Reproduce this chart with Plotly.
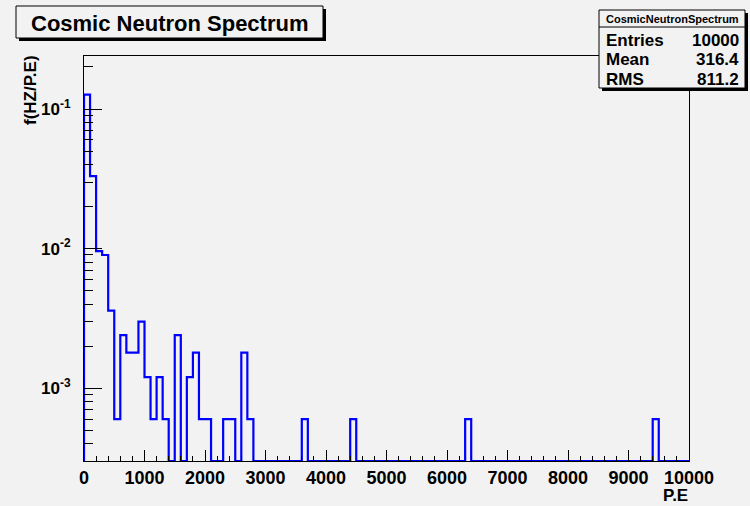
import plotly.graph_objects as go

# Histogram binning (P.E) and bin contents (Hz per bin)
bin_edges = [i * 100 for i in range(101)]
rate = [
    0.1266, 0.0330, 0.0096, 0.0090, 0.0036, 0.0006, 0.0024, 0.0018, 0.0018, 0.0030,
    0.0012, 0.0006, 0.0012, 0.0006, 0.0, 0.0024, 0.0, 0.0012, 0.0018, 0.0006,
    0.0006, 0.0, 0.0, 0.0006, 0.0006, 0.0, 0.0018, 0.0006, 0.0, 0.0,
    0.0, 0.0, 0.0, 0.0, 0.0, 0.0, 0.0006, 0.0, 0.0, 0.0,
    0.0, 0.0, 0.0, 0.0, 0.0006, 0.0, 0.0, 0.0, 0.0, 0.0,
    0.0, 0.0, 0.0, 0.0, 0.0, 0.0, 0.0, 0.0, 0.0, 0.0,
    0.0, 0.0, 0.0, 0.0006, 0.0, 0.0, 0.0, 0.0, 0.0, 0.0,
    0.0, 0.0, 0.0, 0.0, 0.0, 0.0, 0.0, 0.0, 0.0, 0.0,
    0.0, 0.0, 0.0, 0.0, 0.0, 0.0, 0.0, 0.0, 0.0, 0.0,
    0.0, 0.0, 0.0, 0.0, 0.0006, 0.0, 0.0, 0.0, 0.0, 0.0,
]
y_tick_vals = [1e-3, 1e-2, 1e-1]
y_tick_text = ["10<sup>-3</sup>", "10<sup>-2</sup>", "10<sup>-1</sup>"]
x_tick_vals = [0, 1000, 2000, 3000, 4000, 5000, 6000, 7000, 8000, 9000, 10000]
x_tick_text = ["0", "1000", "2000", "3000", "4000", "5000", "6000", "7000", "8000", "9000", "10000"]

stat_labels = ["Entries", "Mean", "RMS"]
stat_values = ["10000", "316.4", "811.2"]

W, H = 750, 506
L, R, T, B = 84, 61, 56, 45
PW, PH = W - L - R, H - T - B
YLOG_RANGE = [-3.5215, -0.6203]
FONT = "Liberation Sans, Arial, Helvetica, sans-serif"
BG = "#f2f2f2"


def px(x):
    return (x - L) / PW


def py(y):
    return (H - B - y) / PH


# Step outline: empty bins sit on the lower edge of the log axis
floor = 10 ** YLOG_RANGE[0]
xs = [bin_edges[0]] + bin_edges[:-1] + [bin_edges[-1]]
ys = [floor] + [v if v > 0 else floor for v in rate] + [floor]

fig = go.Figure()
fig.add_trace(go.Scatter(
    x=xs, y=ys, mode="lines", line=dict(color="#0000ff", width=2.2, shape="hv"),
    hoverinfo="skip", showlegend=False,
))

fig.update_layout(
    width=W, height=H,
    margin=dict(l=L, r=R, t=T, b=B, pad=0),
    paper_bgcolor=BG, plot_bgcolor=BG,
    font=dict(family=FONT, color="black"),
    showlegend=False,
)
fig.update_xaxes(
    range=[0, 10000], showgrid=False, zeroline=False,
    showline=True, mirror=True, linecolor="black", linewidth=1,
    ticks="inside", ticklen=11, tickcolor="black", tickwidth=1,
    tickmode="array", tickvals=x_tick_vals, ticktext=x_tick_text,
    tickfont=dict(family=FONT, size=18, color="black", weight="bold"),
    minor=dict(ticks="inside", ticklen=5, dtick=200, tick0=0, tickcolor="black", showgrid=False),
)
fig.update_yaxes(
    type="log", range=YLOG_RANGE, showgrid=False, zeroline=False,
    showline=True, mirror=True, linecolor="black", linewidth=1,
    ticks="inside", ticklen=18, tickcolor="black", tickwidth=1,
    tickmode="array", tickvals=y_tick_vals, ticktext=y_tick_text,
    tickfont=dict(family=FONT, size=17, color="black", weight="bold"),
    ticklabelstandoff=9,
    minor=dict(ticks="inside", ticklen=9, dtick="D1", tickcolor="black", showgrid=False),
)

shapes = []
ann = []

# Title box with drop shadow
shapes.append(dict(type="rect", xref="paper", yref="paper",
                   x0=px(19), x1=px(326), y0=py(41), y1=py(9),
                   line=dict(width=0), fillcolor="black", layer="above"))
shapes.append(dict(type="rect", xref="paper", yref="paper",
                   x0=px(16), x1=px(323), y0=py(38), y1=py(6),
                   line=dict(color="black", width=1), fillcolor=BG, layer="above"))
ann.append(dict(text="<b>Cosmic Neutron Spectrum</b>", xref="paper", yref="paper",
                x=px(170), y=py(23), xanchor="center", yanchor="middle", showarrow=False,
                font=dict(family=FONT, size=22, color="black")))

# Statistics box with drop shadow
shapes.append(dict(type="rect", xref="paper", yref="paper",
                   x0=px(602), x1=px(748), y0=py(91), y1=py(13),
                   line=dict(width=0), fillcolor="black", layer="above"))
shapes.append(dict(type="rect", xref="paper", yref="paper",
                   x0=px(599), x1=px(745), y0=py(88), y1=py(10),
                   line=dict(color="black", width=1), fillcolor=BG, layer="above"))
shapes.append(dict(type="line", xref="paper", yref="paper",
                   x0=px(599), x1=px(745), y0=py(27), y1=py(27),
                   line=dict(color="black", width=1), layer="above"))
ann.append(dict(text="<b>CosmicNeutronSpectrum</b>", xref="paper", yref="paper",
                x=px(672), y=py(18.5), xanchor="center", yanchor="middle", showarrow=False,
                font=dict(family=FONT, size=11, color="black")))
for i, (lab, val) in enumerate(zip(stat_labels, stat_values)):
    yy = [40, 60, 79][i]
    ann.append(dict(text=f"<b>{lab}</b>", xref="paper", yref="paper",
                    x=px(604), y=py(yy), xanchor="left", yanchor="middle", showarrow=False,
                    font=dict(family=FONT, size=17, color="black")))
    ann.append(dict(text=f"<b>{val}</b>", xref="paper", yref="paper",
                    x=px(741), y=py(yy), xanchor="right", yanchor="middle", showarrow=False,
                    font=dict(family=FONT, size=17, color="black")))

# Axis titles
ann.append(dict(text="<b>P.E</b>", xref="paper", yref="paper",
                x=px(689), y=py(506), xanchor="right", yanchor="bottom", showarrow=False,
                borderpad=0, font=dict(family=FONT, size=17, color="black")))
ann.append(dict(text="<b>f(HZ/P.E)</b>", xref="paper", yref="paper",
                x=px(31), y=py(90), xanchor="center", yanchor="middle", showarrow=False,
                borderpad=0, textangle=-90, font=dict(family=FONT, size=17, color="black")))

fig.update_layout(shapes=shapes, annotations=ann)
fig.write_html("out.html")
